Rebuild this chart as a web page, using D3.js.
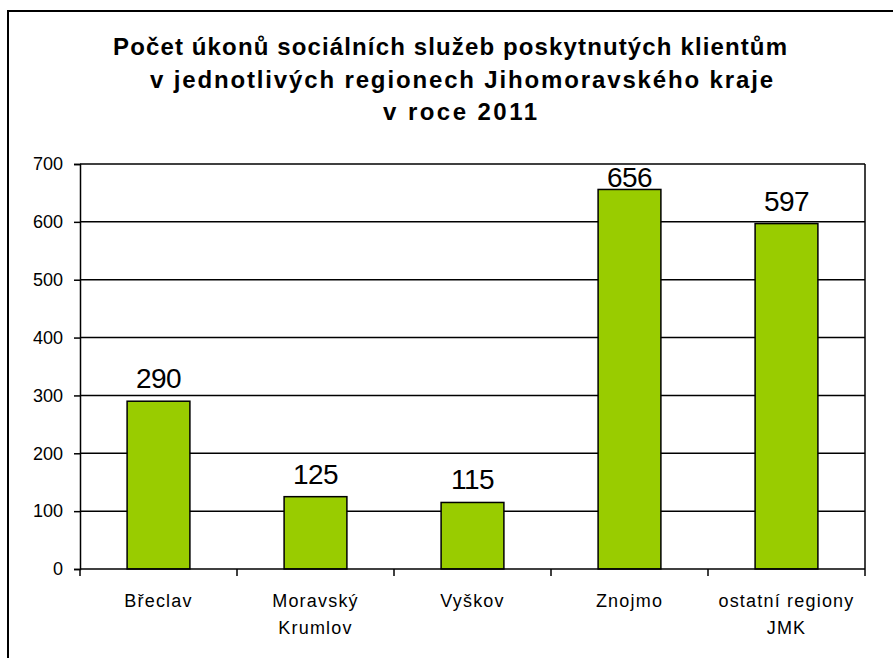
<!DOCTYPE html>
<html>
<head>
<meta charset="utf-8">
<script src="https://cdn.jsdelivr.net/npm/d3@7"></script>
<style>
  body { margin: 0; background: #fff; }
  text { font-family: "Liberation Sans", Arial, sans-serif; fill: #000; }
</style>
</head>
<body>
<div id="chart"></div>
<script>
// data
const regions = ["Břeclav", "Moravský Krumlov", "Vyškov", "Znojmo", "ostatní regiony JMK"];
const regionLines = [["Břeclav"], ["Moravský", "Krumlov"], ["Vyškov"], ["Znojmo"], ["ostatní regiony", "JMK"]];
const counts = [290, 125, 115, 656, 597];
const yTicks = [0, 100, 200, 300, 400, 500, 600, 700];
const titleLines = [
    "Počet úkonů sociálních služeb poskytnutých klientům",
    "v jednotlivých regionech Jihomoravského kraje",
    "v roce 2011"
];

const svgWidth = 893, svgHeight = 658;
const plot = {left: 80, right: 865, top: 164, bottom: 569};

let svg = d3.select("#chart")
    .append("svg")
    .attr("width", svgWidth)
    .attr("height", svgHeight);

// outer frame (only top and left edges are visible)
svg.append("path")
    .attr("d", `M8,${svgHeight} V11 H${svgWidth}`)
    .attr("fill", "none")
    .attr("stroke", "#000")
    .attr("stroke-width", 2);

// title - each line stretched to the width it has in the original
const titleX = [450, 461.5, 460];
const titleW = [674, 623, 154];
svg.append("g")
    .selectAll("text")
    .data(titleLines)
    .enter()
    .append("text")
    .attr("x", (d, i) => titleX[i] - titleW[i] / 2)
    .attr("y", (d, i) => 55 + i * 32.5)
    .attr("textLength", (d, i) => titleW[i])
    .attr("lengthAdjust", "spacing")
    .style("font-size", "24px")
    .style("font-weight", "bold")
    .text(d => d);

let x = d3.scaleBand()
    .domain(regions)
    .range([plot.left, plot.right])
    .paddingInner(0.6)
    .paddingOuter(0.3);

let y = d3.scaleLinear()
    .domain([0, 700])
    .range([plot.bottom, plot.top]);

// horizontal grid lines
svg.append("g")
    .selectAll("line")
    .data(yTicks.slice(1))
    .enter()
    .append("line")
    .attr("x1", plot.left)
    .attr("x2", plot.right)
    .attr("y1", d => y(d))
    .attr("y2", d => y(d))
    .attr("stroke", "#000")
    .attr("stroke-width", 1.5);

// right edge of plot area
svg.append("line")
    .attr("x1", plot.right).attr("x2", plot.right)
    .attr("y1", plot.top).attr("y2", plot.bottom)
    .attr("stroke", "#000")
    .attr("stroke-width", 1.5);

// bars
svg.append("g")
    .selectAll("rect")
    .data(counts)
    .enter()
    .append("rect")
    .attr("x", (d, i) => x(regions[i]))
    .attr("y", d => y(d))
    .attr("width", x.bandwidth())
    .attr("height", d => y(0) - y(d))
    .attr("fill", "#99cc00")
    .attr("stroke", "#000")
    .attr("stroke-width", 1.5);

// value labels above bars
svg.append("g")
    .selectAll("text")
    .data(counts)
    .enter()
    .append("text")
    .attr("x", (d, i) => x(regions[i]) + x.bandwidth() / 2)
    .attr("y", d => Math.max(y(d) - 13, plot.top + 23))
    .attr("text-anchor", "middle")
    .style("font-size", "28px")
    .style("letter-spacing", "-0.5px")
    .text(d => d);

// y axis
let yAxis = d3.axisLeft(y)
    .tickValues(yTicks)
    .tickSize(6)
    .tickPadding(11);
let gy = svg.append("g")
    .attr("transform", `translate(${plot.left},0)`)
    .call(yAxis);
gy.select(".domain").attr("stroke", "#000").attr("stroke-width", 1.5);
gy.selectAll(".tick line").attr("stroke", "#000").attr("stroke-width", 1.5);
gy.selectAll(".tick text")
    .style("font-size", "18px")
    .style("font-family", "'Liberation Sans', Arial, sans-serif")
    .attr("fill", "#000");

// x axis baseline with category boundary ticks
let bounds = d3.range(regions.length + 1).map(i => plot.left + i * x.step());
svg.append("line")
    .attr("x1", plot.left).attr("x2", plot.right)
    .attr("y1", plot.bottom).attr("y2", plot.bottom)
    .attr("stroke", "#000")
    .attr("stroke-width", 1.5);
svg.append("g")
    .selectAll("line")
    .data(bounds)
    .enter()
    .append("line")
    .attr("x1", d => d).attr("x2", d => d)
    .attr("y1", plot.bottom).attr("y2", plot.bottom + 7)
    .attr("stroke", "#000")
    .attr("stroke-width", 1.5);

// category labels
let cat = svg.append("g")
    .selectAll("text")
    .data(regions)
    .enter()
    .append("text")
    .attr("x", d => x(d) + x.bandwidth() / 2)
    .attr("y", 607)
    .attr("text-anchor", "middle")
    .style("font-size", "18px")
    .style("letter-spacing", "1.2px");
cat.selectAll("tspan")
    .data((d, i) => regionLines[i])
    .enter()
    .append("tspan")
    .attr("x", function () { return d3.select(this.parentNode).attr("x"); })
    .attr("dy", (d, i) => i === 0 ? 0 : 27)
    .text(d => d);
</script>
</body>
</html>
